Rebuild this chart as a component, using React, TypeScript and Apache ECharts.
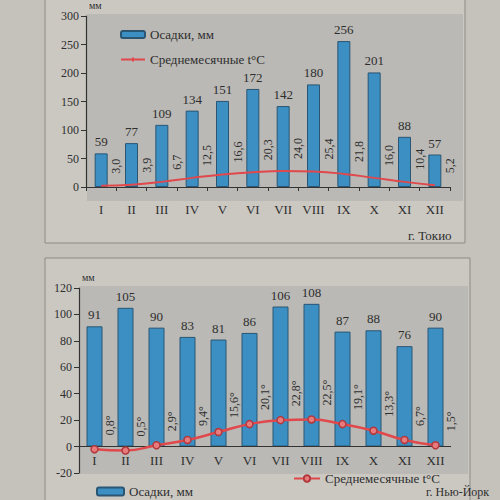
import React, { useEffect, useRef } from "react";
import * as echarts from "echarts";

const months = ["I", "II", "III", "IV", "V", "VI", "VII", "VIII", "IX", "X", "XI", "XII"];

// Tokyo
const tokyoPrecip = [59, 77, 109, 134, 151, 172, 142, 180, 256, 201, 88, 57];
const tokyoTempLine = [2, 4, 9, 16, 22, 26, 28, 27, 23, 16, 9, 3];
const tokyoTempLabels = ["3,0", "3,9", "6,7", "12,5", "16,6", "20,3", "24,0", "25,4", "21,8", "16,0", "10,4", "5,2"];

// New York
const nyPrecip = [91, 105, 90, 83, 81, 86, 106, 108, 87, 88, 76, 90];
const nyTempLine = [-2, -3, 1, 5, 11, 17, 20, 20.5, 17, 12, 5, 1];
const nyTempLabels = ["0,8°", "0,5°", "2,9°", "9,4°", "15,6°", "20,1°", "22,8°", "22,5°", "19,1°", "13,3°", "6,7°", "1,5°"];

const PRECIP = "Осадки, мм";
const TEMP = "Среднемесячные t°C";

const FONT = "'Liberation Serif', 'DejaVu Serif', serif";
const TXT = "#2e2e2e";
const BAR = "#3b8fc2";
const BAR_BORDER = "#2a5674";
const RED = "#e0484c";

function labelSeries(xi: number, yi: number, line: number[], labels: string[], gap: number) {
  return {
    type: "custom",
    xAxisIndex: xi,
    yAxisIndex: yi,
    silent: true,
    z: 6,
    data: line.map((v, i) => [i, v]),
    renderItem: (params: any, api: any) => {
      const p = api.coord([api.value(0), api.value(1)]);
      const w = api.size([1, 0])[0];
      return {
        type: "text",
        x: p[0] + w / 2,
        y: p[1] - gap,
        rotation: Math.PI / 2,
        style: {
          text: labels[params.dataIndex],
          fontSize: 12,
          fontFamily: FONT,
          fill: TXT,
          align: "left",
          verticalAlign: "middle",
        },
      };
    },
  };
}

export default function App() {
  const ref = useRef<HTMLDivElement>(null);
  useEffect(() => {
    if (!ref.current) return;
    const chart = echarts.init(ref.current, undefined, { renderer: "svg" });
    const axisLine = { show: true, lineStyle: { color: "#333", width: 1.2 } };
    const axisLabel = { color: TXT, fontFamily: FONT, fontSize: 12 };
    const legendFmt = (n: string) => n.split("|")[0];

    chart.setOption({
      animation: false,
      backgroundColor: "#c5c2bc",
      textStyle: { fontFamily: FONT },
      graphic: [
        {
          type: "rect",
          z: -10,
          shape: { x: 45, y: -5, width: 420, height: 248 },
          style: { fill: "#cbc8c2", stroke: "#8d8a85", lineWidth: 1 },
        },
        {
          type: "rect",
          z: -10,
          shape: { x: 45, y: 258, width: 425, height: 250 },
          style: { fill: "#cbc8c2", stroke: "#8d8a85", lineWidth: 1 },
        },
        {
          type: "rect",
          z: -9,
          shape: { x: 87, y: 14, width: 376, height: 187 },
          style: { fill: "#bab9b5" },
        },
        {
          type: "rect",
          z: -9,
          shape: { x: 80, y: 286, width: 388, height: 188 },
          style: { fill: "#bab9b5" },
        },
        {
          type: "text",
          left: 408,
          top: 229,
          style: { text: "г. Токио", font: `13px ${FONT}`, fill: TXT },
        },
        {
          type: "text",
          left: 426,
          top: 486,
          style: { text: "г. Нью-Йорк", font: `12px ${FONT}`, fill: TXT },
        },
      ],
      legend: [
        {
          orient: "vertical",
          left: 115,
          top: 23,
          itemWidth: 24,
          itemHeight: 7,
          itemGap: 12,
          data: [
            { name: PRECIP + "|1" },
            { name: TEMP + "|1", icon: "path://M0,2.5 H24 V4.5 H0 Z M11,1.5 H13 V5.5 H11 Z" },
          ],
          formatter: legendFmt,
          textStyle: { color: TXT, fontFamily: FONT, fontSize: 13 },
        },
        {
          left: 91,
          top: 480,
          itemWidth: 27,
          itemHeight: 8,
          data: [PRECIP + "|2"],
          formatter: legendFmt,
          textStyle: { color: TXT, fontFamily: FONT, fontSize: 13 },
        },
        {
          left: 288,
          top: 467,
          itemWidth: 26,
          itemHeight: 8,
          data: [TEMP + "|2"],
          formatter: legendFmt,
          textStyle: { color: TXT, fontFamily: FONT, fontSize: 13 },
        },
      ],
      grid: [
        { left: 86, top: 14, width: 364, height: 173 },
        { left: 79, top: 288, width: 372, height: 185 },
      ],
      xAxis: [
        {
          type: "category",
          gridIndex: 0,
          data: months,
          axisLine,
          axisTick: { show: true, length: 4, lineStyle: { color: "#333" } },
          axisLabel: { ...axisLabel, fontSize: 13, margin: 16 },
        },
        {
          type: "category",
          gridIndex: 1,
          data: months,
          position: "bottom",
          axisLine: { show: false, onZero: false },
          axisTick: { show: false },
          axisLabel: { ...axisLabel, fontSize: 13, inside: true, margin: 6 },
        },
      ],
      yAxis: [
        {
          type: "value",
          gridIndex: 0,
          min: 0,
          max: 300,
          interval: 50,
          name: "мм",
          nameLocation: "end",
          nameGap: 6,
          nameTextStyle: { color: TXT, fontFamily: FONT, fontSize: 10, align: "left", padding: [0, 0, 0, 3] },
          axisLine,
          axisTick: { show: true, length: 5, lineStyle: { color: "#333" } },
          axisLabel: { ...axisLabel, margin: 7 },
          splitLine: { show: false },
        },
        {
          type: "value",
          gridIndex: 1,
          min: -20,
          max: 120,
          interval: 20,
          name: "мм",
          nameLocation: "end",
          nameGap: 6,
          nameTextStyle: { color: TXT, fontFamily: FONT, fontSize: 10, align: "left", padding: [0, 0, 0, 3] },
          axisLine,
          axisTick: { show: true, length: 5, lineStyle: { color: "#333" } },
          axisLabel: { ...axisLabel, margin: 7 },
          splitLine: { show: false },
        },
      ],
      series: [
        {
          name: PRECIP + "|1",
          type: "bar",
          xAxisIndex: 0,
          yAxisIndex: 0,
          data: tokyoPrecip,
          barWidth: 13,
          itemStyle: { color: BAR, borderColor: BAR_BORDER, borderWidth: 1 },
          label: { show: true, position: "top", distance: 5, color: TXT, fontFamily: FONT, fontSize: 13 },
          z: 3,
        },
        {
          name: TEMP + "|1",
          type: "line",
          xAxisIndex: 0,
          yAxisIndex: 0,
          data: tokyoTempLine,
          smooth: true,
          symbol: "none",
          lineStyle: { color: RED, width: 2 },
          itemStyle: { color: RED },
          z: 5,
        },
        labelSeries(0, 0, tokyoTempLine, tokyoTempLabels, 12),
        {
          name: PRECIP + "|2",
          type: "bar",
          xAxisIndex: 1,
          yAxisIndex: 1,
          data: nyPrecip,
          barWidth: 16,
          itemStyle: { color: BAR, borderColor: BAR_BORDER, borderWidth: 1 },
          label: { show: true, position: "top", distance: 5, color: TXT, fontFamily: FONT, fontSize: 13 },
          markLine: {
            silent: true,
            symbol: "none",
            label: { show: false },
            lineStyle: { color: "#333", width: 1.2, type: "solid" },
            data: [{ yAxis: 0 }],
          },
          z: 3,
        },
        {
          name: TEMP + "|2",
          type: "line",
          xAxisIndex: 1,
          yAxisIndex: 1,
          data: nyTempLine,
          smooth: true,
          symbol: "circle",
          symbolSize: 7,
          lineStyle: { color: RED, width: 2.5 },
          itemStyle: { color: "#e87b7d", borderColor: "#b3383c", borderWidth: 1.5 },
          z: 5,
        },
        labelSeries(1, 1, nyTempLine, nyTempLabels, 14),
      ],
    });
    return () => chart.dispose();
  }, []);
  return (
    <div
      ref={ref}
      style={{ position: "absolute", left: 0, top: 0, width: 500, height: 500 }}
    />
  );
}
